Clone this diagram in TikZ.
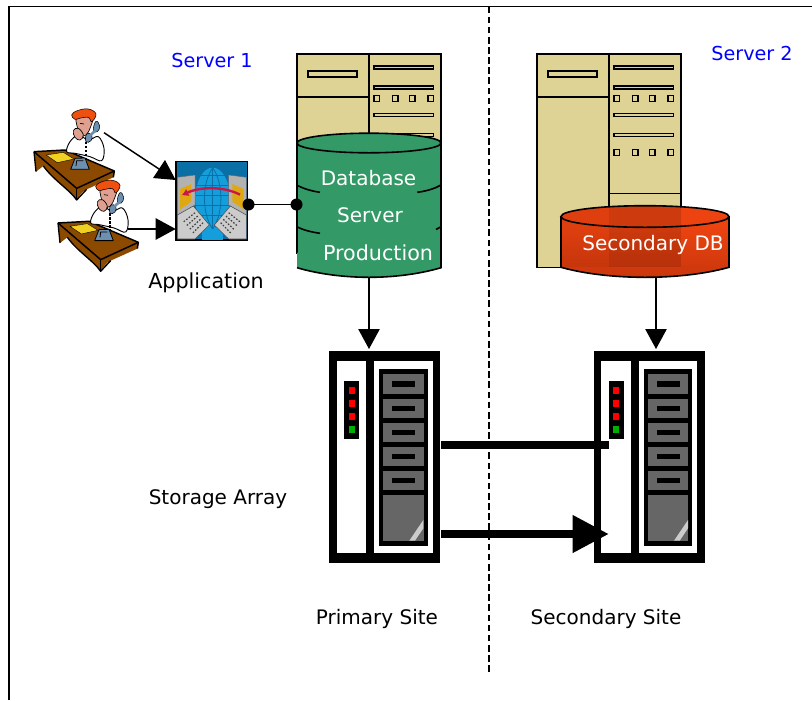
\documentclass[tikz,border=0pt]{standalone}
\usepackage{fontspec}
\setmainfont{DejaVu Sans}
\usetikzlibrary{arrows.meta,calc}
\definecolor{beige}{HTML}{DFD295}
\definecolor{dbgreen}{HTML}{339966}
\definecolor{deskbrown}{HTML}{8B4A00}
\definecolor{phoneblue}{HTML}{6D8FB0}
\definecolor{hairorange}{HTML}{F0500F}
\definecolor{skin}{HTML}{E0A090}
\definecolor{paper}{HTML}{F0D020}
\definecolor{drive}{HTML}{666666}
\definecolor{ledred}{HTML}{FF0000}
\definecolor{ledgreen}{HTML}{00B000}
\definecolor{srvblue}{HTML}{0000FF}
\definecolor{icoblue}{HTML}{0A6FA5}
\definecolor{globeblue}{HTML}{149FDC}
\definecolor{icoyellow}{HTML}{E0A810}
\definecolor{icored}{HTML}{C8184A}
\definecolor{dbred}{HTML}{EC4310}
\definecolor{dbreddark}{HTML}{C8360C}
\tikzset{
  lbl/.style={inner sep=0pt,font=\fontsize{15}{18}\selectfont},
  widelbl/.style={inner sep=0pt,font=\fontsize{15.5}{18}\selectfont},
  narrowlbl/.style={inner sep=0pt,font=\fontsize{14.4}{18}\selectfont},
  box/.style={inner sep=0pt,outer sep=0pt},
  srvline/.style={draw=black,line width=1.2pt},
  slot/.style={draw=black,fill=beige,line width=1.2pt},
  thinarrow/.style={line width=1.1pt,-{Triangle[length=15pt,width=16pt]}},
  fatline/.style={line width=5.4pt},
  fatarrow/.style={line width=5.4pt,-{Triangle[length=27pt,width=27pt]}},
  dot/.style={circle,fill=black,inner sep=0pt,minimum size=9pt},
}
\newcommand{\agentart}[2]{%
 \begin{scope}[shift={(#1,#2)},x=0.25pt,y=-0.25pt,line join=round]
  % desk
  \fill[deskbrown] (42,185) -- (135,180) -- (283,243) -- (280,262) -- (200,298) .. controls (185,305) and (178,318) .. (170,330)
     .. controls (150,300) and (100,270) .. (70,228) -- (48,245) -- cycle;
  \draw[line width=1.1pt] (42,185) -- (170,295) -- (283,243);
  \draw[line width=1.1pt] (42,185) -- (135,180) -- (283,243) -- (280,262);
  \draw[line width=1.1pt] (170,295) -- (170,330);
  \draw[line width=1pt] (48,245) -- (42,185);
  \draw[line width=1pt] (200,298) -- (170,330) .. controls (150,300) and (100,270) .. (70,228);
  \fill[paper,draw=black,line width=.3pt] (78,195) -- (130,187) -- (162,207) -- (112,218) -- cycle;
  % shirt
  \fill[white,draw=black,line width=.7pt] plot[smooth cycle,tension=.6] coordinates {(140,185) (150,155) (175,135) (205,150) (235,140) (252,175) (245,212) (210,200) (165,190)};
  \draw[line width=.8pt,dash pattern=on 2pt off 1pt] (198,155) -- (198,205);
  % head
  \fill[skin,draw=black,line width=.5pt] plot[smooth cycle,tension=.7] coordinates {(172,80) (215,82) (212,110) (198,135) (182,135) (172,112)};
  \fill[skin,draw=black,line width=.5pt] plot[smooth cycle,tension=.7] coordinates {(160,122) (175,115) (190,135) (180,150) (165,142)};
  \draw[line width=.5pt] (180,100) -- (192,102);
  \fill[hairorange,draw=black,line width=.4pt] plot[smooth cycle,tension=.7] coordinates {(155,75) (172,62) (205,57) (228,72) (215,95) (205,82) (178,85) (165,88)};
  % handset
  \fill[phoneblue,draw=black,line width=.4pt] plot[smooth cycle,tension=.8] coordinates {(228,94) (239,108) (232,125) (220,120)};
  \fill[phoneblue,draw=black,line width=.4pt] plot[smooth cycle,tension=.8] coordinates {(200,132) (215,135) (213,152) (198,155)};
  \draw[phoneblue,line width=2pt] (228,120) -- (212,135);
  % phone
  \fill[phoneblue,draw=black,line width=.6pt] (152,238) -- (165,205) -- (195,204) -- (208,238) -- cycle;
  \draw[line width=.6pt] (168,228) -- (170,212) -- (190,212);
 \end{scope}}
\newcommand{\laptopart}{%
  \fill[gray!60,draw=black!60,line width=.3pt] (472,262) -- (525,255) -- (525,345) -- (472,378) -- cycle;
  \fill[icoyellow] (480,297) -- (514,282) -- (514,335) -- (480,358) -- cycle;
  \fill[gray!40,draw=black!70,line width=.4pt] (472,375) -- (520,348) -- (568,405) -- (525,447) -- (472,447) -- cycle;
  \foreach \t in {0.2,0.4,0.6,0.8}
    \draw[black!75,line width=.9pt,dash pattern=on 1.2pt off 1.2pt] ($(482,384)!\t!(528,440)$) -- ($(520,356)!\t!(560,405)$);
}
\newcommand{\serverart}[2]{%
 \begin{scope}[shift={(#1,0)}]
  \fill[beige,srvline] (296.7,54) rectangle (440.7,#2);
  \draw[srvline] (369,54) -- (369,#2);
  \draw[srvline] (296.7,96.7) -- (369,96.7);
  \draw[slot] (307.7,70.7) rectangle (357,77);
  \foreach \y in {67.7,87.7,115,135}
    \draw[slot] (374,\y-1.5) rectangle (433.5,\y+1.5);
  \foreach \y in {98.3,152.3}
    \foreach \x in {376.7,395,412,430.7}
      \draw[slot] (\x-2.7,\y-3) rectangle (\x+2.7,\y+3);
 \end{scope}}
\newcommand{\storageart}[1]{%
 \begin{scope}[shift={(#1,0)}]
  \fill[black] (329.3,351.3) rectangle (440,563.3);
  \fill[white] (336.7,361.3) rectangle (366,553.3);
  \fill[white] (374,361.3) rectangle (432.7,553.3);
  \fill[black] (344,381.3) rectangle (359.3,438.7);
  \foreach \y in {390.3,403.3,416.3}
    \fill[ledred] (348.7,\y-3.3) rectangle (354.7,\y+3.3);
  \fill[ledgreen] (348.7,426) rectangle (354.7,432.6);
  \fill[black] (379,368.7) rectangle (427.7,546);
  \foreach \a/\b in {374.3/393.7,399/417.7,423/441.7,447/465.7,471/489.7}{
    \fill[drive] (383.3,\a) rectangle (423.7,\b);
    \fill[black] (392,{(\a+\b)/2-2.6}) rectangle (415,{(\a+\b)/2+2.6});
  }
  \fill[drive] (383.3,495) rectangle (423.7,540.7);
  \fill[black!20] (409.3,540.7) -- (423.3,520) -- (423.3,528.3) -- (415,540.7) -- cycle;
 \end{scope}}
\begin{document}
\begin{tikzpicture}[x=0.75pt,y=-0.75pt]
\useasboundingbox (0,0) rectangle (812,700);
% frame and divider
\coordinate (frameTL) at (9,6.5);
\coordinate (frameTR) at (812,6.5);
\coordinate (frameBL) at (9,700);
\coordinate (divT) at (489,6.5);
\coordinate (divB) at (489,673);
\draw[line width=1.2pt] (frameBL) -- (frameTL) -- (frameTR);
\draw[line width=.9pt,dash pattern=on 5pt off 2.6pt] (divT) -- (divB);

% servers
\serverart{0}{253}
\serverart{240}{267.3}
\draw[srvline] (609,193.3) -- (680.7,193.3);

% agents
\agentart{20}{90}
\agentart{44}{161.3}
\node[box,minimum width=60pt,minimum height=50pt] (agent1) at (70,160) {};
\node[box,minimum width=60pt,minimum height=50pt] (agent2) at (94,232) {};
\coordinate (agent1out) at (104,132.7);
\coordinate (agent2out) at (128.3,229);

% application icon
\node[box,minimum width=53.6pt,minimum height=58.5pt] (app) at (212.25,201) {};
\begin{scope}[shift={(20,90)},x=0.25pt,y=-0.25pt]
  \fill[icoblue,draw=black,line width=1pt] (468,215) rectangle (683,450);
  \begin{scope}
    \clip (469,216) rectangle (682,449);
    \fill[globeblue] (578,325) ellipse (52 and 92);
    \fill[globeblue] (545,400) rectangle (610,449);
    \draw[icoblue,line width=.7pt] (578,233) -- (578,417);
    \draw[icoblue,line width=.6pt] (578,233) .. controls (545,280) and (545,370) .. (578,417);
    \draw[icoblue,line width=.6pt] (578,233) .. controls (611,280) and (611,370) .. (578,417);
    \foreach \y in {255,285,315,345,375}
      \draw[icoblue,line width=.6pt] (528,\y) -- (628,\y);
  \end{scope}
  \laptopart
  \begin{scope}[shift={(1151,0)},xscale=-1]
    \laptopart
  \end{scope}
  \draw[icored,line width=1.8pt,-{Latex[length=5pt,width=6pt]}] (660,314) .. controls (610,288) and (540,290) .. (485,316);
\end{scope}

% cylinders
\node[box,minimum width=108pt,minimum height=108pt] (db1) at (369,205) {};
\coordinate (db1dot) at (296.5,204.5);
\fill[dbgreen] (297,143) -- (297,267.7) .. controls (315,273) and (340,277.3) .. (369,277.3) .. controls (398,277.3) and (423,273) .. (441,267.7) -- (441,143) -- cycle;
\fill[dbgreen] (369,143) ellipse [x radius=72,y radius=9.8];
\draw[line width=1.2pt] (297,252.7) -- (297,143) arc[start angle=180,end angle=540,x radius=72,y radius=9.8] (441,143) -- (441,267.7) .. controls (423,273) and (398,277.3) .. (369,277.3) .. controls (340,277.3) and (315,273) .. (297,267.7);
\draw[line width=1.2pt] (296.7,185) .. controls (303,188.5) and (311,191) .. (320,192.3);
\draw[line width=1.2pt] (441,185) .. controls (435,188.5) and (427,191) .. (417.3,192.3);
\draw[line width=1.2pt] (296.7,226.7) .. controls (303,230) and (311,232) .. (320,233.3);
\draw[line width=1.2pt] (441,226.7) -- (436,229.5);
\node[lbl,text=white] (dbtxt1) at (368.5,178) {Database};
\node[lbl,text=white] (dbtxt2) at (370,215) {Server};
\node[widelbl,text=white] (dbtxt3) at (378,252.5) {Production};

\node[box,minimum width=126pt,minimum height=54pt] (db2) at (645,241.5) {};
\begin{scope}
  \clip (561,216.5) -- (561,267.3) .. controls (585,274) and (615,277.3) .. (645,277.3) .. controls (675,277.3) and (705,274) .. (729,267.3) -- (729,216.5) arc[start angle=0,end angle=-180,x radius=84,y radius=10.8] -- cycle;
  \fill[dbred] (555,200) rectangle (735,230);
  \shade[top color=dbred,bottom color=dbreddark] (555,226) rectangle (735,280);
  \fill[black,opacity=.05] (555,200) rectangle (680.7,267.3);
  \fill[black,opacity=.08] (609,200) rectangle (680.7,267.3);
\end{scope}
\draw[line width=1.2pt] (561,216.5) -- (561,267.3) .. controls (585,274) and (615,277.3) .. (645,277.3) .. controls (675,277.3) and (705,274) .. (729,267.3) -- (729,216.5);
\draw[line width=1.2pt] (645,216.5) ellipse [x radius=84,y radius=10.8];
\node[lbl,text=white] (db2txt) at (653,245) {Secondary DB};

% storage
\storageart{0}
\storageart{264.7}
\node[box,minimum width=83pt,minimum height=159pt] (store1) at (384.65,457.3) {};
\node[box,minimum width=83pt,minimum height=159pt] (store2) at (649.35,457.3) {};

% connectors
\coordinate (app1in) at (175.7,180);
\coordinate (app2in) at (175.7,229);
\draw[thinarrow] (agent1out) -- (app1in);
\draw[thinarrow] (agent2out) -- (app2in);
\coordinate (appdot) at (248.5,204.5);
\draw[line width=1.1pt] (appdot) -- (db1dot);
\node[dot] (dotA) at (appdot) {};
\node[dot] (dotB) at (db1dot) {};
\coordinate (db1out) at (369,277.5);
\coordinate (store1in) at (369,349);
\coordinate (db2out) at (656,277.5);
\coordinate (store2in) at (656,349);
\draw[thinarrow] (db1out) -- (store1in);
\draw[thinarrow] (db2out) -- (store2in);
\coordinate (rep1a) at (441,445);
\coordinate (rep1b) at (608.7,445);
\coordinate (rep2a) at (441,534);
\coordinate (rep2b) at (608.7,534);
\draw[fatline] (rep1a) -- (rep1b);
\draw[fatarrow] (rep2a) -- (rep2b);

% labels
\node[narrowlbl,text=srvblue] (srv1) at (212,61) {Server 1};
\node[narrowlbl,text=srvblue] (srv2) at (752,54) {Server 2};
\node[widelbl] (lapp) at (206,283) {Application};
\node[lbl] (lsa) at (218,499) {Storage Array};
\node[lbl] (lps) at (377,619) {Primary Site};
\node[lbl] (lss) at (606,619) {Secondary Site};
\end{tikzpicture}
\end{document}
